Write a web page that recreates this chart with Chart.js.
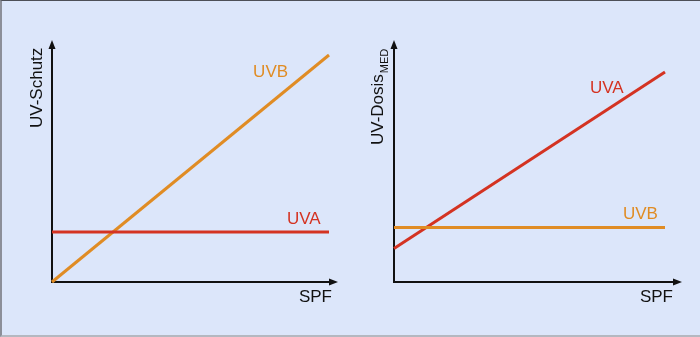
<!DOCTYPE html>
<html lang="de">
<head>
<meta charset="UTF-8">
<title>UV-Schutz und UV-Dosis</title>
<script src="https://cdn.jsdelivr.net/npm/chart.js@4"></script>
<style>
    body{
        margin: 0;
        background-color: #dce6fa;
    }
    .frame{
        position: absolute;
        left: 0;
        top: 0;
        width: 700px;
        height: 337px;
        box-sizing: border-box;
        border-top: 1px solid #4d4f57;
        border-left: 2px solid #8c8f99;
        border-bottom: 2px solid #b4b8c0;
    }
    .box{
        position: absolute;
        top: 0;
        width: 350px;
        height: 337px;
    }
</style>
</head>
<body>
<div class="frame"></div>
<div class="box" style="left: 0px;"><canvas id="schutz"></canvas></div>
<div class="box" style="left: 350px;"><canvas id="dosis"></canvas></div>
<script>
// SPF axis (no ticks, just start and end)
const spf = [0, 10];
// left chart: UV protection vs SPF
const schutzUVB = [0, 10];
const schutzUVA = [2.2, 2.2];
// right chart: UV dose (MED) vs SPF
const dosisUVA = [1.6, 10];
const dosisUVB = [2.6, 2.6];

const ORANGE = '#e08c24';
const RED = '#d43322';
const FONT = '"Liberation Sans", Arial, sans-serif';

const pts = (ys) => spf.map((x, i) => ({x: x, y: ys[i]}));

// draws arrows, axis titles and the series labels
const sketchPlugin = {
    id: 'sketch',
    beforeDatasetsDraw(chart, args, o) {
        const ctx = chart.ctx;
        const a = chart.chartArea;
        ctx.save();
        ctx.strokeStyle = '#111';
        ctx.fillStyle = '#111';
        ctx.lineWidth = 2;
        ctx.beginPath();
        ctx.moveTo(a.left, o.tipTop + 6);
        ctx.lineTo(a.left, a.bottom);
        ctx.lineTo(o.tipRight - 6, a.bottom);
        ctx.stroke();
        // arrow heads
        ctx.beginPath();
        ctx.moveTo(a.left, o.tipTop);
        ctx.lineTo(a.left - 3.5, o.tipTop + 9);
        ctx.lineTo(a.left + 3.5, o.tipTop + 9);
        ctx.closePath();
        ctx.fill();
        ctx.beginPath();
        ctx.moveTo(o.tipRight, a.bottom);
        ctx.lineTo(o.tipRight - 9, a.bottom - 3.5);
        ctx.lineTo(o.tipRight - 9, a.bottom + 3.5);
        ctx.closePath();
        ctx.fill();
        ctx.restore();
    },
    afterDatasetsDraw(chart, args, o) {
        const ctx = chart.ctx;
        const xs = chart.scales.x, ys = chart.scales.y;
        ctx.save();
        ctx.font = '17px ' + FONT;
        ctx.textBaseline = 'alphabetic';
        // x title
        ctx.fillStyle = '#111';
        ctx.textAlign = 'right';
        ctx.fillText('SPF', o.spfX, o.spfY);
        // y title, rotated
        ctx.save();
        ctx.translate(o.titleX, o.titleY);
        ctx.rotate(-Math.PI / 2);
        ctx.textAlign = 'left';
        ctx.fillText(o.title, 0, 0);
        if (o.sub) {
            const w = ctx.measureText(o.title).width;
            ctx.font = '11px ' + FONT;
            ctx.fillText(o.sub, w + 1, 5);
        }
        ctx.restore();
        // series labels
        ctx.font = '17px ' + FONT;
        ctx.textAlign = 'left';
        o.labels.forEach(l => {
            ctx.fillStyle = l.color;
            ctx.fillText(l.text, xs.getPixelForValue(l.x), ys.getPixelForValue(l.y));
        });
        ctx.restore();
    }
};

const makeChart = (id, sets, pad, sketch) => new Chart(document.getElementById(id), {
    type: 'scatter',
    data: {
        datasets: sets.map(s => ({
            label: s.label,
            data: pts(s.data),
            showLine: true,
            borderColor: s.color,
            backgroundColor: s.color,
            borderWidth: 3,
            pointRadius: 0,
            clip: false
        }))
    },
    options: {
        responsive: false,
        animation: false,
        layout: {padding: pad},
        scales: {
            x: {type: 'linear', min: 0, max: 10, display: false},
            y: {type: 'linear', min: 0, max: 10, display: false}
        },
        plugins: {
            legend: {display: false},
            tooltip: {enabled: false},
            sketch: sketch
        }
    },
    plugins: [sketchPlugin]
});

document.getElementById('schutz').width = 350;
document.getElementById('schutz').height = 337;
document.getElementById('dosis').width = 350;
document.getElementById('dosis').height = 337;

makeChart('schutz',
    [{label: 'UVA', data: schutzUVA, color: RED}, {label: 'UVB', data: schutzUVB, color: ORANGE}],
    {left: 52, top: 55, right: 21, bottom: 55},
    {
        tipTop: 40, tipRight: 338,
        title: 'UV-Schutz', titleX: 42, titleY: 128,
        spfX: 332, spfY: 302,
        labels: [
            {text: 'UVB', x: 7.26, y: 9.03, color: ORANGE},
            {text: 'UVA', x: 8.48, y: 2.55, color: RED}
        ]
    });

makeChart('dosis',
    [{label: 'UVB', data: dosisUVB, color: ORANGE}, {label: 'UVA', data: dosisUVA, color: RED}],
    {left: 44, top: 72, right: 35, bottom: 55},
    {
        tipTop: 40, tipRight: 332,
        title: 'UV-Dosis', sub: 'MED', titleX: 33, titleY: 145,
        spfX: 323, spfY: 302,
        labels: [
            {text: 'UVA', x: 7.23, y: 9.0, color: RED},
            {text: 'UVB', x: 8.45, y: 3.0, color: ORANGE}
        ]
    });
</script>
</body>
</html>
